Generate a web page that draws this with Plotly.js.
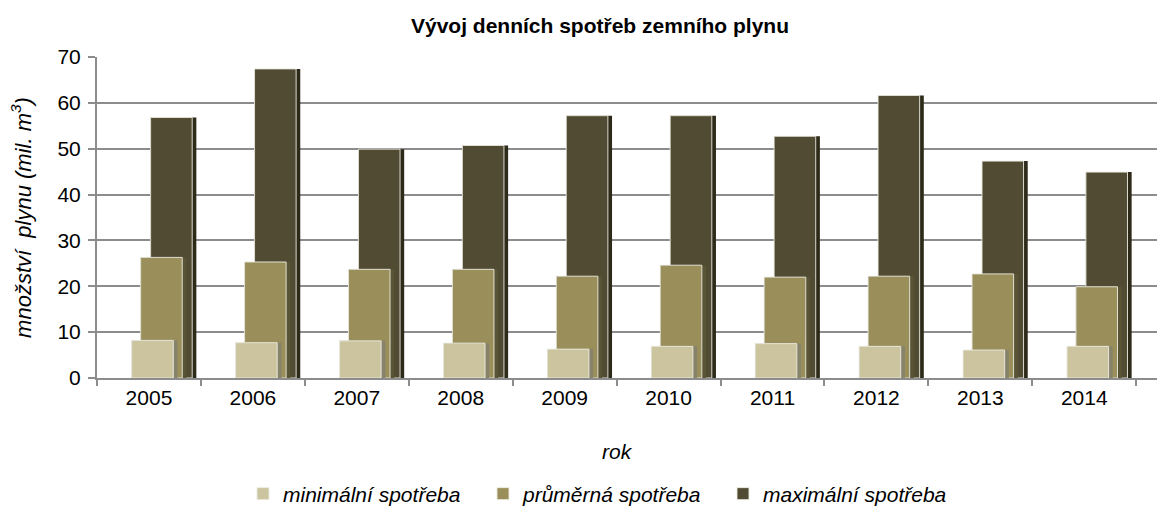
<!DOCTYPE html>
<html>
<head>
<meta charset="utf-8">
<script src="https://cdn.plot.ly/plotly-3.0.1.min.js"></script>
<style>
  html, body { margin: 0; padding: 0; background: #ffffff; }
  #chart { width: 1157px; height: 506px; }
</style>
</head>
<body>
<div id="chart"></div>
<script>
const years = ['2005', '2006', '2007', '2008', '2009', '2010', '2011', '2012', '2013', '2014'];
const minSpotreba = [8.2, 7.7, 8.1, 7.6, 6.3, 6.9, 7.5, 6.9, 6.1, 6.9];
const prumSpotreba = [26.3, 25.3, 23.7, 23.7, 22.2, 24.6, 22.0, 22.2, 22.7, 19.9];
const maxSpotreba = [56.8, 67.4, 49.9, 50.7, 57.2, 57.2, 52.7, 61.6, 47.3, 44.9];
const seriesNames = ['minimální spotřeba', 'průměrná spotřeba', 'maximální spotřeba'];
const xTitle = 'rok';
const yTitle = 'množství\u00a0 plynu (mil. m<sup>3</sup>)';
const chartTitle = 'Vývoj denních spotřeb zemního plynu';

const FONT = '"Liberation Sans", Arial, sans-serif';
const faceW = 0.40, sideW = 0.44;

function pair(values, name, offset, face, side, rank) {
  return [
    { type: 'bar', x: years, y: values, offset: offset, width: sideW,
      marker: { color: side, line: { width: 0 } }, showlegend: false, hoverinfo: 'skip' },
    { type: 'bar', x: years, y: values, offset: offset, width: faceW, name: name,
      legendrank: rank,
      marker: { color: face, line: { color: 'rgba(235,235,225,0.9)', width: 1 } } }
  ];
}

const data = [].concat(
  pair(maxSpotreba, seriesNames[2], 0.016, '#514b33', '#2d2a1a', 3),
  pair(prumSpotreba, seriesNames[1], -0.08, '#9a8e5a', '#5a5436', 2),
  pair(minSpotreba, seriesNames[0], -0.166, '#cbc49f', '#87836a', 1)
);

const layout = {
  width: 1157, height: 506,
  margin: { l: 97, r: 0, t: 57, b: 128 },
  paper_bgcolor: '#ffffff', plot_bgcolor: '#ffffff',
  barmode: 'overlay',
  font: { family: FONT, color: '#000000', size: 21 },
  title: { text: '<b>' + chartTitle + '</b>', x: 0.5186, xanchor: 'center',
           y: 0.95, yanchor: 'middle', font: { family: FONT, size: 21, color: '#000000' } },
  xaxis: {
    type: 'category', range: [-0.5, 9.7], tickson: 'boundaries',
    ticks: 'outside', ticklen: 6, tickcolor: '#8c8c8c', tickwidth: 2,
    showline: true, linecolor: '#8c8c8c', linewidth: 2,
    showgrid: false, tickfont: { size: 21 }
  },
  yaxis: {
    range: [0, 70], dtick: 10, ticks: 'outside', ticklen: 7, tickcolor: '#8c8c8c', tickwidth: 2,
    showline: true, linecolor: '#8c8c8c', linewidth: 2,
    showgrid: true, gridcolor: '#8c8c8c', gridwidth: 2, zeroline: false,
    tickfont: { size: 21 }, ticklabelstandoff: 3,
    title: { text: '<i>' + yTitle + '</i>', font: { size: 22 }, standoff: 20 }
  },
  annotations: [{
    text: '<i>' + xTitle + '</i>', xref: 'paper', yref: 'paper',
    x: (617 - 97) / 1060, y: -(451 - 378) / 321, xanchor: 'center', yanchor: 'middle',
    showarrow: false, font: { size: 21 }
  }],
  legend: { orientation: 'h', xref: 'container', yref: 'container',
            x: 243 / 1157, xanchor: 'left', y: 1 - 494 / 506, yanchor: 'middle',
            font: { size: 21, style: 'italic' }, traceorder: 'normal', itemwidth: 30,
            entrywidth: 195 },
  showlegend: true
};

Plotly.newPlot('chart', data, layout, { displayModeBar: false, staticPlot: true });
</script>
</body>
</html>
